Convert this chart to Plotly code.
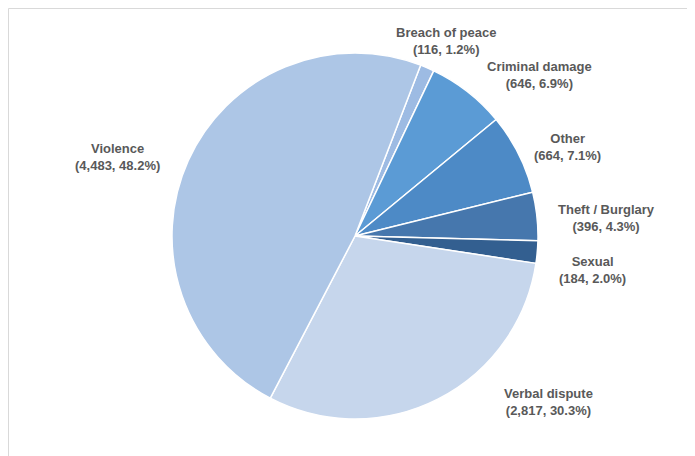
import plotly.graph_objects as go

categories = ["Breach of peace", "Criminal damage", "Other", "Theft / Burglary",
              "Sexual", "Verbal dispute", "Violence"]
values = [116, 646, 664, 396, 184, 2817, 4483]
colors = ["#9dbbe3", "#5b9bd5", "#4d8ac6", "#4677ad", "#335f90", "#c6d6ec", "#adc6e6"]

W, H = 695, 456
OFF = 8  # page body offset
# label centres in page pixels – layout only
label_px = [(446, 41), (539, 75), (567, 147), (606, 218),
            (592, 270), (548, 402), (118, 157)]
label_pos = [((x - OFF) / W, 1 - (y - OFF) / H) for x, y in label_px]

total = sum(values)
cx, cy, r = 355 - OFF, 236 - OFF, 183

fig = go.Figure(go.Pie(
    labels=categories, values=values, sort=False, direction="clockwise",
    rotation=21, marker=dict(colors=colors, line=dict(color="white", width=1.5)),
    textinfo="none", hoverinfo="label+value+percent", showlegend=False,
    domain=dict(x=[(cx - r) / W, (cx + r) / W],
                y=[(H - cy - r) / H, (H - cy + r) / H]),
))

annotations = []
for cat, v, (x, y) in zip(categories, values, label_pos):
    annotations.append(dict(
        x=x, y=y, xref="paper", yref="paper", showarrow=False,
        xanchor="center", yanchor="middle", align="center",
        text=f"<b>{cat}<br>({v:,}, {100 * v / total:.1f}%)</b>",
        font=dict(family="Liberation Sans, Arial, sans-serif", size=13, color="#595959"),
    ))

fig.update_layout(
    width=W, height=H, margin=dict(l=0, r=0, t=0, b=0),
    paper_bgcolor="white", plot_bgcolor="white",
    annotations=annotations,
    shapes=[dict(type="rect", xref="paper", yref="paper",
                 x0=0.5 / W, x1=(694.5 - OFF) / W, y0=-0.2, y1=1 - 0.5 / H,
                 line=dict(color="#d9d9d9", width=1))],
)

fig.write_html("out.html")
